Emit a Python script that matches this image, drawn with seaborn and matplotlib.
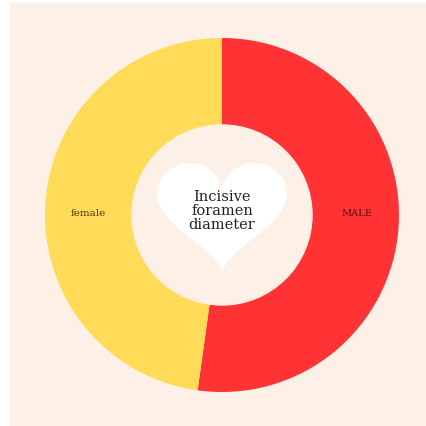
import matplotlib.pyplot as plt
import seaborn as sns
import numpy as np
from matplotlib.patches import Polygon

# Data
labels = ['MALE', 'female']
values = [52.2, 47.8]
colors = ['#FF3333', '#FFDB58']
center_title = 'Incisive\nforamen\ndiameter'

sns.set_style('white')
plt.rcParams['font.family'] = ['DejaVu Serif']

bg = '#FDF0E6'
fig = plt.figure(figsize=(4.26, 4.26), dpi=100, facecolor='white')

# beige panel behind the chart
bg_ax = fig.add_axes([10 / 426, 0, 416 / 426, 423 / 426], zorder=-1)
bg_ax.set_facecolor(bg)
bg_ax.set_xticks([])
bg_ax.set_yticks([])
for s in bg_ax.spines.values():
    s.set_visible(False)

ax = fig.add_axes([(222 - 200) / 426, (426 - 215 - 200) / 426, 400 / 426, 400 / 426])
ax.set_facecolor('none')

wedges, _ = ax.pie(values, colors=colors, startangle=90, counterclock=False,
                   radius=177 / 200, wedgeprops=dict(width=(177 - 90) / 200, linewidth=0))

# inner beige disk
ax.add_patch(plt.Circle((0, 0), 90 / 200, color=bg, zorder=3))

# heart shape in the middle, fitted into a box
t = np.linspace(0, 2 * np.pi, 400)
hx = 16 * np.sin(t) ** 3
hy = 13 * np.cos(t) - 5 * np.cos(2 * t) - 2 * np.cos(3 * t) - np.cos(4 * t)
x0, x1, y0, y1 = -0.325, 0.325, -0.29, 0.26
hx = x0 + (hx - hx.min()) / (hx.max() - hx.min()) * (x1 - x0)
hy = y0 + (hy - hy.min()) / (hy.max() - hy.min()) * (y1 - y0)
ax.add_patch(Polygon(np.column_stack([hx, hy]), closed=True,
                     color='white', zorder=4, linewidth=0))

ax.text(0, 0.02, center_title, ha='center', va='center', fontsize=10.5,
        color='#222222', linespacing=1.0, zorder=5)

# segment labels
ax.text(0.675, 0.01, labels[0], ha='center', va='center', fontsize=7, color='#5a1010')
ax.text(-0.67, 0.01, labels[1], ha='center', va='center', fontsize=7.5, color='#4a3a10')

ax.set_xlim(-1, 1)
ax.set_ylim(-1, 1)
ax.set_aspect('equal')
ax.axis('off')

fig.savefig('out.png', dpi=100, facecolor='white')
